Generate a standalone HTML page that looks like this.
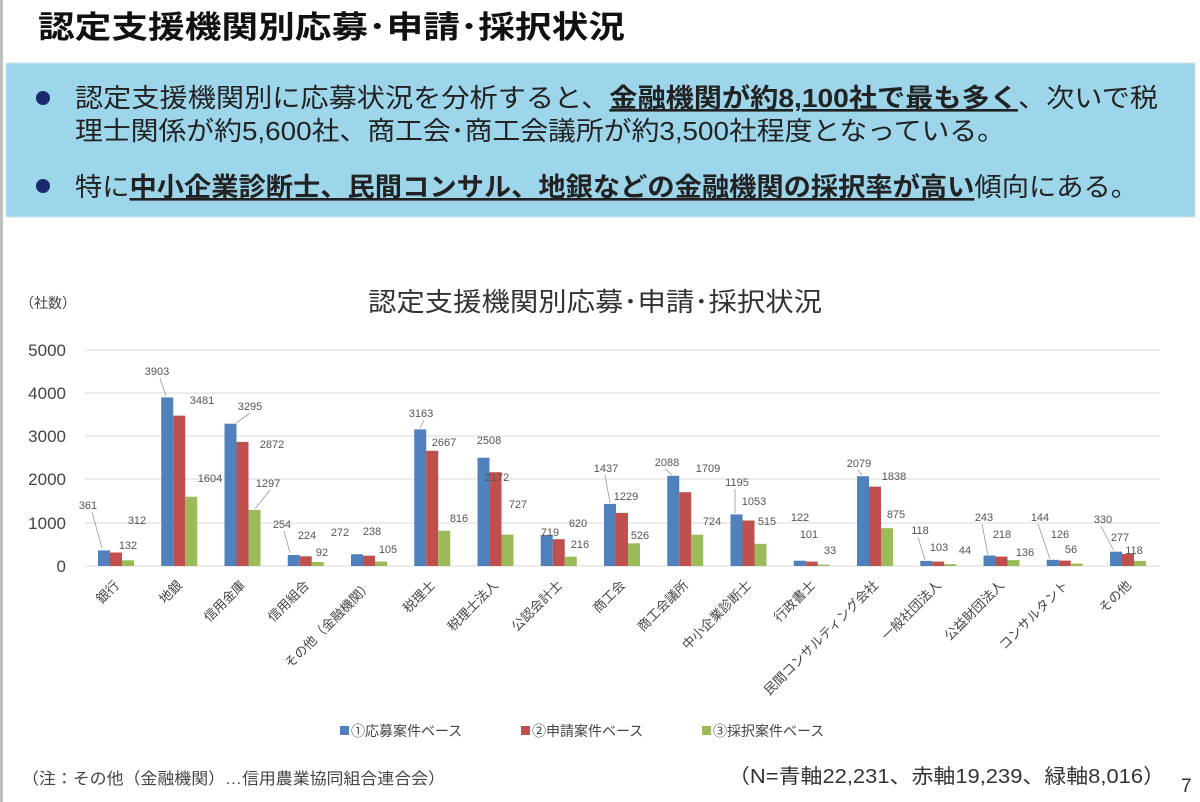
<!DOCTYPE html>
<html><head><meta charset="utf-8"><style>
html,body{margin:0;padding:0;background:#fff;}
svg{display:block;font-family:"Liberation Sans","Noto Sans CJK JP",sans-serif;}
</style></head><body>
<svg width="1200" height="802" viewBox="0 0 1200 802" xmlns="http://www.w3.org/2000/svg">
<rect x="0" y="0" width="3" height="802" fill="#bfbfbf"/>
<text x="38" y="38" font-size="31" font-weight="bold" fill="#111" textLength="587" lengthAdjust="spacingAndGlyphs">認定支援機関別応募･申請･採択状況</text>
<rect x="6" y="63" width="1189" height="154" fill="#9dd5ea" stroke="#c8e6f2" stroke-width="1"/>
<circle cx="43" cy="98" r="7" fill="#1a2a6c"/>
<circle cx="43" cy="186" r="7" fill="#1a2a6c"/>
<g font-size="26" fill="#222">
<text x="75" y="107" textLength="1083" lengthAdjust="spacingAndGlyphs">認定支援機関別に応募状況を分析すると、<tspan font-weight="bold" text-decoration="underline">金融機関が約8,100社で最も多く</tspan>、次いで税</text>
<text x="75" y="140" textLength="930" lengthAdjust="spacingAndGlyphs">理士関係が約5,600社、商工会･商工会議所が約3,500社程度となっている。</text>
<text x="75" y="196" textLength="1063" lengthAdjust="spacingAndGlyphs">特に<tspan font-weight="bold" text-decoration="underline">中小企業診断士、民間コンサル、地銀などの金融機関の採択率が高い</tspan>傾向にある。</text>
</g>

<text x="368" y="311" font-size="26" fill="#333" textLength="454" lengthAdjust="spacingAndGlyphs">認定支援機関別応募･申請･採択状況</text>
<text x="20" y="308" font-size="14" fill="#444">（社数）</text>

<g stroke="#d9d9d9" stroke-width="1">
<line x1="85" y1="350" x2="1160" y2="350"/>
<line x1="85" y1="393" x2="1160" y2="393"/>
<line x1="85" y1="436" x2="1160" y2="436"/>
<line x1="85" y1="479" x2="1160" y2="479"/>
<line x1="85" y1="523" x2="1160" y2="523"/>
<line x1="85" y1="566" x2="1160" y2="566"/>
</g>
<g font-size="17" fill="#444" text-anchor="end">
<text x="66" y="356">5000</text><text x="66" y="399">4000</text><text x="66" y="442">3000</text>
<text x="66" y="485">2000</text><text x="66" y="529">1000</text><text x="66" y="572">0</text>
</g>

<g>
<g transform="translate(116,566) scale(1,-1)"><rect x="-18" width="12" height="15.6" fill="#4F81BD"/><rect x="-6" width="12" height="13.5" fill="#C0504D"/><rect x="6" width="12" height="5.7" fill="#9BBB59"/></g>
<g transform="translate(179.25,566) scale(1,-1)"><rect x="-18" width="12" height="168.6" fill="#4F81BD"/><rect x="-6" width="12" height="150.4" fill="#C0504D"/><rect x="6" width="12" height="69.3" fill="#9BBB59"/></g>
<g transform="translate(242.5,566) scale(1,-1)"><rect x="-18" width="12" height="142.3" fill="#4F81BD"/><rect x="-6" width="12" height="124.1" fill="#C0504D"/><rect x="6" width="12" height="56" fill="#9BBB59"/></g>
<g transform="translate(305.75,566) scale(1,-1)"><rect x="-18" width="12" height="11" fill="#4F81BD"/><rect x="-6" width="12" height="9.7" fill="#C0504D"/><rect x="6" width="12" height="4" fill="#9BBB59"/></g>
<g transform="translate(369,566) scale(1,-1)"><rect x="-18" width="12" height="11.8" fill="#4F81BD"/><rect x="-6" width="12" height="10.3" fill="#C0504D"/><rect x="6" width="12" height="4.5" fill="#9BBB59"/></g>
<g transform="translate(432.25,566) scale(1,-1)"><rect x="-18" width="12" height="136.6" fill="#4F81BD"/><rect x="-6" width="12" height="115.2" fill="#C0504D"/><rect x="6" width="12" height="35.3" fill="#9BBB59"/></g>
<g transform="translate(495.5,566) scale(1,-1)"><rect x="-18" width="12" height="108.3" fill="#4F81BD"/><rect x="-6" width="12" height="93.8" fill="#C0504D"/><rect x="6" width="12" height="31.4" fill="#9BBB59"/></g>
<g transform="translate(558.75,566) scale(1,-1)"><rect x="-18" width="12" height="31.1" fill="#4F81BD"/><rect x="-6" width="12" height="26.8" fill="#C0504D"/><rect x="6" width="12" height="9.3" fill="#9BBB59"/></g>
<g transform="translate(622,566) scale(1,-1)"><rect x="-18" width="12" height="62.1" fill="#4F81BD"/><rect x="-6" width="12" height="53.1" fill="#C0504D"/><rect x="6" width="12" height="22.7" fill="#9BBB59"/></g>
<g transform="translate(685.25,566) scale(1,-1)"><rect x="-18" width="12" height="90.2" fill="#4F81BD"/><rect x="-6" width="12" height="73.8" fill="#C0504D"/><rect x="6" width="12" height="31.3" fill="#9BBB59"/></g>
<g transform="translate(748.5,566) scale(1,-1)"><rect x="-18" width="12" height="51.6" fill="#4F81BD"/><rect x="-6" width="12" height="45.5" fill="#C0504D"/><rect x="6" width="12" height="22.2" fill="#9BBB59"/></g>
<g transform="translate(811.75,566) scale(1,-1)"><rect x="-18" width="12" height="5.3" fill="#4F81BD"/><rect x="-6" width="12" height="4.4" fill="#C0504D"/><rect x="6" width="12" height="1.4" fill="#9BBB59"/></g>
<g transform="translate(875,566) scale(1,-1)"><rect x="-18" width="12" height="89.8" fill="#4F81BD"/><rect x="-6" width="12" height="79.4" fill="#C0504D"/><rect x="6" width="12" height="37.8" fill="#9BBB59"/></g>
<g transform="translate(938.25,566) scale(1,-1)"><rect x="-18" width="12" height="5.1" fill="#4F81BD"/><rect x="-6" width="12" height="4.4" fill="#C0504D"/><rect x="6" width="12" height="1.9" fill="#9BBB59"/></g>
<g transform="translate(1001.5,566) scale(1,-1)"><rect x="-18" width="12" height="10.5" fill="#4F81BD"/><rect x="-6" width="12" height="9.4" fill="#C0504D"/><rect x="6" width="12" height="5.9" fill="#9BBB59"/></g>
<g transform="translate(1064.75,566) scale(1,-1)"><rect x="-18" width="12" height="6.2" fill="#4F81BD"/><rect x="-6" width="12" height="5.4" fill="#C0504D"/><rect x="6" width="12" height="2.4" fill="#9BBB59"/></g>
<g transform="translate(1128,566) scale(1,-1)"><rect x="-18" width="12" height="14.3" fill="#4F81BD"/><rect x="-6" width="12" height="12" fill="#C0504D"/><rect x="6" width="12" height="5.1" fill="#9BBB59"/></g>
</g>

<g font-size="11" fill="#555" text-anchor="middle">
<text x="88" y="509">361</text><text x="137" y="524">312</text><text x="128" y="549">132</text>
<text x="157" y="375">3903</text><text x="202" y="404">3481</text><text x="210" y="482">1604</text>
<text x="250" y="410">3295</text><text x="272" y="448">2872</text><text x="268" y="487">1297</text>
<text x="282" y="528">254</text><text x="307" y="539">224</text><text x="322" y="556">92</text>
<text x="340" y="536">272</text><text x="372" y="535">238</text><text x="388" y="553">105</text>
<text x="421" y="417">3163</text><text x="444" y="446">2667</text><text x="459" y="522">816</text>
<text x="489" y="444">2508</text><text x="497" y="481">2172</text><text x="518" y="508">727</text>
<text x="550" y="536">719</text><text x="578" y="527">620</text><text x="580" y="548">216</text>
<text x="606" y="472">1437</text><text x="626" y="500">1229</text><text x="640" y="539">526</text>
<text x="667" y="466">2088</text><text x="708" y="472">1709</text><text x="712" y="525">724</text>
<text x="737" y="486">1195</text><text x="754" y="505">1053</text><text x="767" y="525">515</text>
<text x="800" y="521">122</text><text x="809" y="538">101</text><text x="830" y="554">33</text>
<text x="859" y="467">2079</text><text x="894" y="480">1838</text><text x="896" y="518">875</text>
<text x="920" y="534">118</text><text x="939" y="551">103</text><text x="965" y="554">44</text>
<text x="984" y="521">243</text><text x="1002" y="538">218</text><text x="1025" y="556">136</text>
<text x="1040" y="521">144</text><text x="1060" y="538">126</text><text x="1071" y="553">56</text>
<text x="1103" y="523">330</text><text x="1120" y="541">277</text><text x="1134" y="554">118</text>
</g>
<g stroke="#999" stroke-width="0.8">
<line x1="92" y1="512" x2="102" y2="548"/>
<line x1="160" y1="378" x2="166" y2="396"/>
<line x1="250" y1="413" x2="236" y2="423"/>
<line x1="270" y1="490" x2="255" y2="509"/>
<line x1="284" y1="531" x2="290" y2="553"/>
<line x1="424" y1="420" x2="420" y2="428"/>
<line x1="605" y1="475" x2="610" y2="503"/>
<line x1="665" y1="469" x2="672" y2="475"/>
<line x1="735" y1="489" x2="735" y2="513"/>
<line x1="858" y1="470" x2="862" y2="475"/>
<line x1="918" y1="537" x2="925" y2="560"/>
<line x1="982" y1="524" x2="988" y2="555"/>
<line x1="1038" y1="524" x2="1050" y2="559"/>
<line x1="1101" y1="526" x2="1114" y2="551"/>
</g>

<g font-size="13" fill="#444" text-anchor="end">
<text transform="translate(120,586) rotate(-45)">銀行</text>
<text transform="translate(183,586) rotate(-45)">地銀</text>
<text transform="translate(246,586) rotate(-45)">信用金庫</text>
<text transform="translate(310,586) rotate(-45)">信用組合</text>
<text transform="translate(373,586) rotate(-45)">その他（金融機関）</text>
<text transform="translate(436,586) rotate(-45)">税理士</text>
<text transform="translate(499,586) rotate(-45)">税理士法人</text>
<text transform="translate(563,586) rotate(-45)">公認会計士</text>
<text transform="translate(626,586) rotate(-45)">商工会</text>
<text transform="translate(689,586) rotate(-45)">商工会議所</text>
<text transform="translate(752,586) rotate(-45)">中小企業診断士</text>
<text transform="translate(816,586) rotate(-45)">行政書士</text>
<text transform="translate(879,586) rotate(-45)">民間コンサルティング会社</text>
<text transform="translate(942,586) rotate(-45)">一般社団法人</text>
<text transform="translate(1005,586) rotate(-45)">公益財団法人</text>
<text transform="translate(1069,586) rotate(-45)">コンサルタント</text>
<text transform="translate(1132,586) rotate(-45)">その他</text>
</g>

<g font-size="14" fill="#444">
<rect x="340" y="726" width="9" height="9" fill="#4F81BD"/><text x="351" y="736">①応募案件ベース</text>
<rect x="521" y="726" width="9" height="9" fill="#C0504D"/><text x="532" y="736">②申請案件ベース</text>
<rect x="702" y="726" width="9" height="9" fill="#9BBB59"/><text x="713" y="736">③採択案件ベース</text>
</g>
<text x="22" y="784" font-size="16" fill="#444" textLength="423" lengthAdjust="spacingAndGlyphs">（注：その他（金融機関）…信用農業協同組合連合会）</text>
<text x="728" y="783" font-size="20" fill="#333" textLength="437" lengthAdjust="spacingAndGlyphs">（N=青軸22,231、赤軸19,239、緑軸8,016）</text>
<text x="1181" y="792" font-size="19" fill="#333">7</text>
</svg>
</body></html>
